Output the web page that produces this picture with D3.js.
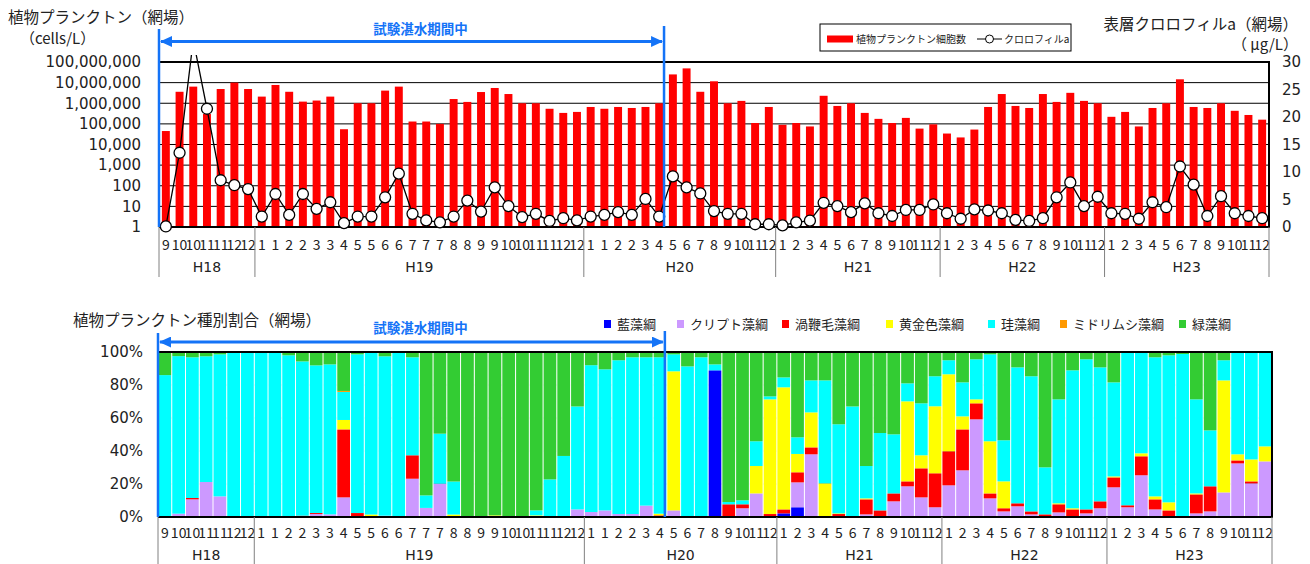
<!DOCTYPE html>
<html><head><meta charset="utf-8">
<script src="https://cdn.jsdelivr.net/npm/d3@7"></script>
<style>
body{margin:0;background:#fff}
svg{display:block}
</style>
</head><body>
<svg id="c" width="1310" height="564"></svg>
<script>
// ---------- DATA ----------
const months=[9,10,10,11,11,12,12,
 1,1,2,2,3,3,4,5,5,6,6,7,7,7,8,8,9,9,10,10,11,11,12,12,
 1,1,2,2,3,4,5,6,7,8,9,10,11,12,
 1,2,3,4,5,6,7,8,9,10,11,12,
 1,2,3,4,5,6,7,8,9,10,11,12,
 1,2,3,4,5,6,7,8,9,10,11,12];
const years=["H18","H19","H20","H21","H22","H23"];
const yearCounts=[7,24,14,12,12,12];
const testEndIndex=37; // 試験湛水期間 ends before this category

// 植物プランクトン細胞数 (cells/L)
const cells=[45000,3600000,6400000,300000,4900000,10000000,4900000,2100000,7700000,3600000,
 1200000,1350000,2100000,55000,1000000,1000000,4100000,6400000,130000,130000,
 100000,1600000,1160000,3500000,5500000,2800000,1000000,1000000,540000,340000,
 380000,660000,540000,660000,590000,660000,1000000,25000000,49000000,3600000,
 11600000,1000000,1300000,110000,660000,90000,110000,75000,2300000,740000,
 1000000,340000,175000,110000,195000,59000,95000,34000,22000,53000,
 660000,2800000,740000,590000,2800000,1160000,3200000,1300000,1000000,220000,
 380000,75000,590000,1000000,14500000,660000,590000,1000000,430000,270000,
 160000];
// クロロフィルa (μg/L)
const chl=[0.1,13.5,34,21.5,8.5,7.6,6.9,1.9,6.0,2.2,
 6.0,3.3,4.5,0.7,1.9,1.9,5.4,9.7,2.4,1.2,
 0.85,1.9,4.8,2.8,7.2,3.8,1.8,2.4,1.1,1.6,
 1.2,1.9,2.2,2.7,2.2,5.1,1.9,9.2,7.2,6.1,
 2.9,2.4,2.4,0.5,0.5,0.3,0.85,1.15,4.4,3.8,
 2.7,4.3,2.5,2.0,3.1,3.1,4.1,2.5,1.5,3.2,
 3.0,2.5,1.3,1.1,1.6,5.4,8.1,3.8,5.5,2.5,
 2.4,1.5,4.5,3.6,11.0,7.7,2.0,5.6,2.5,2.0,
 1.6];
const cellTicks=[1,10,100,1000,10000,100000,1000000,10000000,100000000];
const chlTicks=[0,5,10,15,20,25,30];

// 種別割合 (%)
const seriesNames=["藍藻綱","クリプト藻綱","渦鞭毛藻綱","黄金色藻綱","珪藻綱","ミドリムシ藻綱","緑藻綱"];
const seriesColors=["#0000FF","#CC99FF","#FF0000","#FFFF00","#00FFFF","#FF9900","#33CC33"];
const cyano=[0,0,0,0,0,0,0,0,0,0, 0,0,0,0,0,0,0,0,0,0, 0,0,0,0,0,0,0,0,0,0, 0,0,0,0,0,0,0,0,0,0,
 88.9,0,0,0,0,2.2,5.9,0,0,0, 0,0,0,0,0,0,0,0,0,0, 0,0,0,0,0,0,0,0,0,0, 0,0,0,0,0,0,0.6,0.8,0,0, 0];
const crypto=[0,2,10.7,21.2,12.5,0,0,0,0,0,
 0,1.8,1.6,11.9,0,0,0.8,0,23.2,5.5,
 20.2,0,0,0,0,0,0,0,0,0,
 4.6,3,4,1.8,1.8,6.9,0,4,0,0,
 0,0,5.3,14.3,0,0,15.1,38,0,0,
 0,1.6,0,9.5,18.6,11.9,5.9,19.2,28.3,59.2,
 11.3,3.4,6.5,1.6,0,2.8,0,2.2,5.3,18,
 5.9,25.3,4.6,0,0,2.2,2.8,14.1,32.5,20.4,
 33.7];
const dino=[0,0,0.8,0,0,0,0,0,0,0,
 0.8,0.6,0,41.2,2.4,0,0,0,14.2,0,
 0,0,0,0,0,0,0,0,0,0,
 0,0,0,0,0,0,1,0,0,0,
 0,7.7,2.4,0,1.8,2.4,6.1,4.2,0,1.8,
 0,9.1,4,4.8,3,17.6,20.6,20.6,24.8,9.7,
 3,1.9,1.8,1.8,1.6,4.9,4.6,2.4,4.2,6,
 1.2,11.5,6.1,4,0,11.5,15.2,0,1.8,1.2,
 0];
const golden=[0,0,0,0,0,0,0,0,0,0,
 0,0,0,5.7,0,1.5,0,0,0,0,
 0,1.5,0,0,1,0,0,1,0,0,
 0,0,0,0,0,0,1,84.3,0,0,
 0,0,0,16.6,69.5,74,11.1,21.2,20.4,0.4,
 0,0.6,0,0,48.5,7.9,40.6,46.7,7.9,2.4,
 31.6,16.3,0,0,0,0.6,0.7,0,0,0.6,
 0,1.8,1.8,4.9,0,0.6,0,67.9,3.7,13.3,
 9.1];
const diatom=[86,95.5,85.3,76.2,86.1,100,100,100,100,98,
 93.5,89.5,90.9,17,96.2,98.5,96.6,100,59.4,7.6,
 30.3,20,0,0,0,0,0,3,22.8,37,
 62.4,89,85.5,93.2,95,89.9,94.8,10.3,91.3,96.8,
 3.6,1.4,2.4,15,1.8,6,10.1,19.4,62.4,54,
 67,19.6,46.9,35.8,10.9,31.5,18.2,8.5,20.6,24.3,
 52.7,24.9,82.4,81.9,28.5,63,83.6,91,81.2,57,
 92.9,61.4,84.3,89.1,98.8,57,33.9,12.2,62,65.1,
 57.2];
const eugleno=[0,0,0,0,0,0,0,0,0,0, 0,0,0,0.6,0,0,0,0,0,0, 0,0,0,0,0,0,0,0,0,0, 0,0,0,0,0,0,0,0,0,0,
 0,0,0,0,0,0,0,0,0,0, 0,0,0,0,0,0,0,0,0,0, 0,0,0,0,0,0,0,0,0,0, 0,0,0,0,0,0,0,0,0,0, 0];
const chloro=[14,2.5,3.2,2.6,1.4,0,0,0,0,2,
 5.7,8.1,7.5,23.6,1.4,0,2.6,0,3.2,86.9,
 49.5,78.5,100,100,99,100,100,96,77.2,63,
 33,8,10.5,5,3.2,3.2,3.2,1.4,8.7,3.2,
 7.5,90.9,89.9,54.1,26.9,15.4,51.7,17.2,17.2,43.8,
 33,69.1,49.1,49.9,19,31.1,14.7,5,18.4,4.4,
 1.4,53.5,9.3,14.7,69.9,28.7,11.1,4.4,9.3,18.4,
 0,0,3.2,2,1.2,28.7,47.5,5,0,0,
 0];
const pctTicks=[0,0.2,0.4,0.6,0.8,1];

// ---------- DRAW ----------
const CJK='"Noto Sans CJK JP","Noto Sans",sans-serif';
const NUM='"DejaVu Sans",sans-serif';
const BLUE='#1473F7';
const TXT='#222';
const svg=d3.select("#c");
const N=months.length;
const idx=d3.range(N);

svg.append("defs").append("marker")
 .attr("id","arr").attr("markerUnits","userSpaceOnUse")
 .attr("markerWidth",12).attr("markerHeight",11).attr("refX",11).attr("refY",5.5)
 .attr("orient","auto-start-reverse")
 .append("path").attr("d","M0,0L12,5.5L0,11Z").attr("fill",BLUE);

const starts=[];let acc=0;yearCounts.forEach(c=>{starts.push(acc);acc+=c;});

function xAxisGroups(x,top,monthY,yearY,sepBottom){
  const g=svg.append("g");
  const ax=d3.axisBottom(x).tickSize(0).tickFormat(i=>months[i]);
  const ag=g.append("g").attr("transform",`translate(0,${monthY})`).call(ax);
  ag.select(".domain").remove();
  ag.selectAll("text").attr("y",0).attr("dy","0.36em")
    .attr("font-family",CJK).attr("font-size",14).attr("fill",TXT);
  const step=x.step();
  const x0=x.range()[0];
  const bounds=starts.concat([N]);
  bounds.forEach(b=>{
    const xx=x0+b*step;
    g.append("line").attr("x1",xx).attr("x2",xx).attr("y1",top).attr("y2",sepBottom)
      .attr("stroke","#808080").attr("stroke-width",1);
  });
  years.forEach((y,k)=>{
    const cx=x0+(starts[k]+yearCounts[k]/2)*step;
    g.append("text").attr("x",cx).attr("y",yearY).attr("dy","0.36em")
      .attr("text-anchor","middle").attr("font-family",NUM).attr("font-size",14)
      .attr("fill",TXT).text(y);
  });
}

function periodMarker(x,bottom,topL,topR,arrowY,textY){
  const step=x.step(), x0=x.range()[0];
  const xl=x0, xr=x0+testEndIndex*step-2;
  svg.append("line").attr("x1",xl).attr("x2",xl).attr("y1",topL).attr("y2",bottom)
    .attr("stroke",BLUE).attr("stroke-width",2.5);
  svg.append("line").attr("x1",xr).attr("x2",xr).attr("y1",topR).attr("y2",bottom)
    .attr("stroke",BLUE).attr("stroke-width",2.5);
  svg.append("line").attr("x1",xl+2).attr("x2",xr-2).attr("y1",arrowY).attr("y2",arrowY)
    .attr("stroke",BLUE).attr("stroke-width",3)
    .attr("marker-start","url(#arr)").attr("marker-end","url(#arr)");
  svg.append("text").attr("x",(xl+xr)/2+9).attr("y",textY).attr("dy","0.36em")
    .attr("text-anchor","middle").attr("font-family",CJK).attr("font-weight","bold")
    .attr("font-size",13.5).attr("fill",BLUE).text("試験湛水期間中");
}

// ===== TOP CHART =====
const T={l:159,r:1269,t:62,b:227};
const xT=d3.scaleBand().domain(idx).range([T.l,T.r]).paddingInner(0.42).paddingOuter(0.21);
const yL=d3.scaleLog().domain([1,1e8]).range([T.b,T.t]);
const yR=d3.scaleLinear().domain([0,30]).range([T.b,T.t]);

svg.append("g").selectAll("line").data(cellTicks.slice(1,-1)).join("line")
  .attr("x1",T.l).attr("x2",T.r).attr("y1",d=>yL(d)).attr("y2",d=>yL(d))
  .attr("stroke","#000").attr("stroke-width",1);

svg.append("g").selectAll("rect").data(idx).join("rect")
  .attr("x",i=>xT(i)).attr("width",xT.bandwidth())
  .attr("y",i=>yL(cells[i])).attr("height",i=>yL(1)-yL(cells[i]))
  .attr("fill","#FF0000");

svg.append("line").attr("x1",T.l).attr("x2",T.r+1).attr("y1",T.t).attr("y2",T.t).attr("stroke","#000").attr("stroke-width",2);
svg.append("line").attr("x1",T.r).attr("x2",T.r).attr("y1",T.t).attr("y2",T.b).attr("stroke","#000").attr("stroke-width",2);
svg.append("line").attr("x1",T.l).attr("x2",T.r+1).attr("y1",T.b).attr("y2",T.b).attr("stroke","#000").attr("stroke-width",2);

svg.append("clipPath").attr("id","clipT").append("rect")
  .attr("x",T.l-8).attr("y",T.t-7).attr("width",T.r-T.l+16).attr("height",T.b-T.t+20);
const cx=i=>xT(i)+xT.bandwidth()/2;
const gl=svg.append("g").attr("clip-path","url(#clipT)");
gl.append("path").datum(idx)
  .attr("d",d3.line().x(cx).y(i=>yR(chl[i])))
  .attr("fill","none").attr("stroke","#000").attr("stroke-width",1.3);
gl.selectAll("circle").data(idx).join("circle")
  .attr("cx",cx).attr("cy",i=>yR(chl[i])).attr("r",5.5)
  .attr("fill","#fff").attr("stroke","#000").attr("stroke-width",1.3);

const axL=svg.append("g").attr("transform",`translate(${T.l-18},0)`)
  .call(d3.axisLeft(yL).tickValues(cellTicks).tickFormat(d3.format(",")).tickSize(0));
axL.select(".domain").remove();
axL.selectAll("text").attr("x",0).attr("font-family",NUM).attr("font-size",15).attr("fill",TXT);
const axR=svg.append("g").attr("transform",`translate(${T.r+13},0)`)
  .call(d3.axisRight(yR).tickValues(chlTicks).tickSize(0));
axR.select(".domain").remove();
axR.selectAll("text").attr("x",0).attr("font-family",NUM).attr("font-size",15).attr("fill",TXT);

xAxisGroups(xT,T.b,245,267,277);
periodMarker(xT,T.b,29,26,41.5,29);

svg.append("text").attr("x",8).attr("y",17).attr("dy","0.36em").attr("font-family",CJK)
  .attr("font-size",15.5).attr("fill",TXT).text("植物プランクトン（網場）");
svg.append("text").attr("x",20).attr("y",39).attr("dy","0.36em").attr("font-family",CJK)
  .attr("font-size",15).attr("fill",TXT).text("（cells/L）");
svg.append("text").attr("x",1298).attr("y",24).attr("dy","0.36em").attr("text-anchor","end")
  .attr("font-family",CJK).attr("font-size",15.5).attr("fill",TXT).text("表層クロロフィルa（網場）");
svg.append("text").attr("x",1298).attr("y",45).attr("dy","0.36em").attr("text-anchor","end")
  .attr("font-family",CJK).attr("font-size",15).attr("fill",TXT).text("（ μg/L）");

const lg=svg.append("g");
lg.append("rect").attr("x",820).attr("y",24).attr("width",251).attr("height",27)
  .attr("fill","#fff").attr("stroke","#000").attr("stroke-width",1);
lg.append("rect").attr("x",827).attr("y",35.5).attr("width",26).attr("height",7).attr("fill","#FF0000");
lg.append("text").attr("x",856).attr("y",39).attr("dy","0.36em").attr("font-family",CJK)
  .attr("font-size",10).attr("fill",TXT).text("植物プランクトン細胞数");
lg.append("line").attr("x1",977).attr("x2",1002).attr("y1",39).attr("y2",39).attr("stroke","#000").attr("stroke-width",1);
lg.append("circle").attr("cx",989.5).attr("cy",39).attr("r",4).attr("fill","#fff").attr("stroke","#000");
lg.append("text").attr("x",1004).attr("y",39).attr("dy","0.36em").attr("font-family",CJK)
  .attr("font-size",10).attr("fill",TXT).text("クロロフィルa");

// ===== BOTTOM CHART =====
const B={l:158,r:1272,t:352,b:517};
const xB=d3.scaleBand().domain(idx).range([B.l,B.r]).padding(0);
const yB=d3.scaleLinear().domain([0,1]).range([B.b,B.t]);
const table=idx.map(i=>({i,s0:cyano[i],s1:crypto[i],s2:dino[i],s3:golden[i],s4:diatom[i],s5:eugleno[i],s6:chloro[i]}));
const keys=["s0","s1","s2","s3","s4","s5","s6"];
const stacked=d3.stack().keys(keys).offset(d3.stackOffsetExpand)(table);

svg.append("g").selectAll("line").data(pctTicks.slice(1,-1)).join("line")
  .attr("x1",B.l).attr("x2",B.r).attr("y1",d=>yB(d)).attr("y2",d=>yB(d))
  .attr("stroke","#000").attr("stroke-width",1);

svg.append("g").selectAll("g").data(stacked).join("g")
  .attr("fill",(d,k)=>seriesColors[k])
  .selectAll("rect").data(d=>d).join("rect")
  .attr("x",d=>xB(d.data.i)).attr("width",xB.bandwidth())
  .attr("y",d=>yB(d[1])).attr("height",d=>yB(d[0])-yB(d[1]));
svg.append("g").selectAll("line").data(idx.slice(1)).join("line")
  .attr("x1",i=>xB(i)).attr("x2",i=>xB(i)).attr("y1",B.t).attr("y2",B.b)
  .attr("stroke","#fff").attr("stroke-width",1);

svg.append("line").attr("x1",B.l).attr("x2",B.r+1).attr("y1",B.t).attr("y2",B.t).attr("stroke","#000").attr("stroke-width",2);
svg.append("line").attr("x1",B.r).attr("x2",B.r).attr("y1",B.t).attr("y2",B.b).attr("stroke","#000").attr("stroke-width",2);
svg.append("line").attr("x1",B.l).attr("x2",B.r+1).attr("y1",B.b).attr("y2",B.b).attr("stroke","#000").attr("stroke-width",2);

const axB=svg.append("g").attr("transform",`translate(${B.l-15},0)`)
  .call(d3.axisLeft(yB).tickValues(pctTicks).tickFormat(d3.format(".0%")).tickSize(0));
axB.select(".domain").remove();
axB.selectAll("text").attr("x",0).attr("font-family",NUM).attr("font-size",15).attr("fill",TXT);

xAxisGroups(xB,B.b,533,555,564);
periodMarker(xB,B.b,333,331,342,328);

svg.append("text").attr("x",73).attr("y",320).attr("dy","0.36em").attr("font-family",CJK)
  .attr("font-size",15.5).attr("fill",TXT).text("植物プランクトン種別割合（網場）");

const legX=[604,677,782,886,988,1060,1179];
const bl=svg.append("g");
seriesNames.forEach((n,k)=>{
  bl.append("rect").attr("x",legX[k]).attr("y",320).attr("width",7).attr("height",8).attr("fill",seriesColors[k]);
  bl.append("text").attr("x",legX[k]+13).attr("y",324).attr("dy","0.36em").attr("font-family",CJK)
    .attr("font-size",13).attr("fill",TXT).text(n);
});
</script>
</body></html>
